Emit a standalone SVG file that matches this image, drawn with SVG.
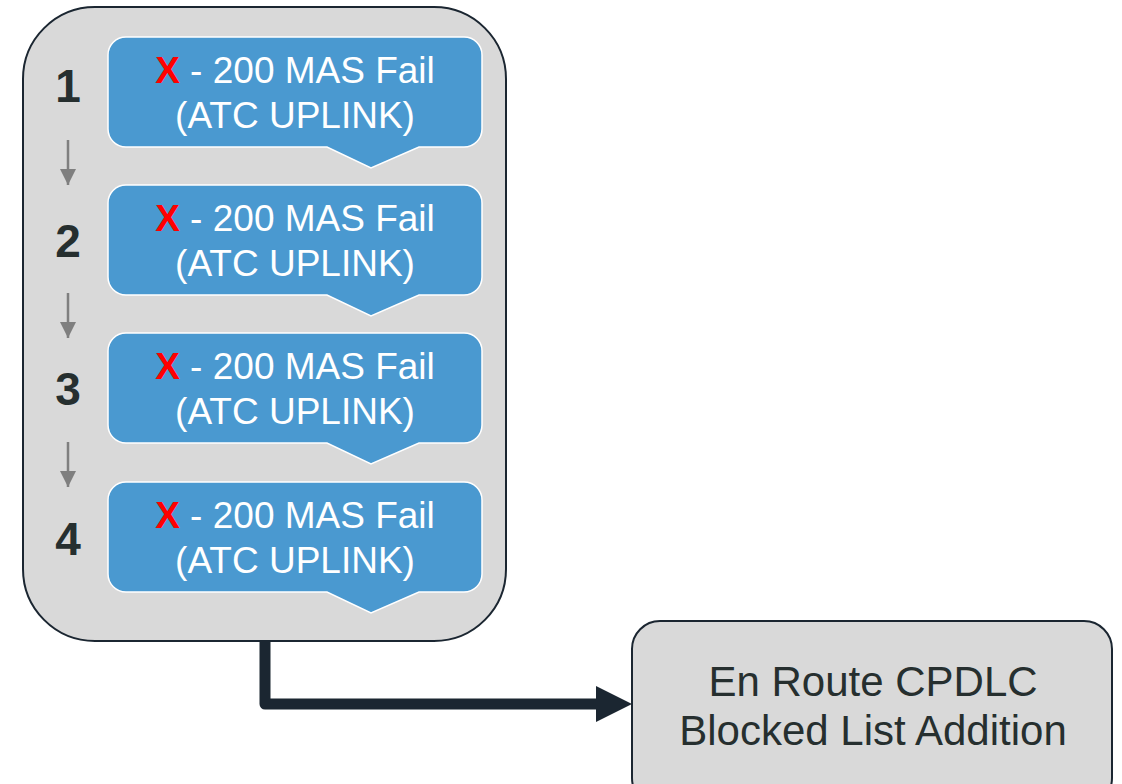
<svg xmlns="http://www.w3.org/2000/svg" width="1122" height="784" viewBox="0 0 1122 784">
<defs>
<style>
.grey{fill:#d9d9d9;stroke:#1b2631;stroke-width:2}
.blue{fill:#4a99d0;stroke:#ffffff;stroke-width:1.5}
.t{font-family:"Liberation Sans",Arial,sans-serif;font-size:37px;fill:#ffffff;text-anchor:middle}
.x{fill:#ff0000;font-weight:bold}
.num{font-family:"Liberation Sans",Arial,sans-serif;font-size:46px;font-weight:bold;fill:#262f2f;text-anchor:middle}
.step{stroke:#7f7f7f;stroke-width:2.5;fill:none}
.big{font-family:"Liberation Sans",Arial,sans-serif;font-size:42px;fill:#262f2f;text-anchor:middle}
</style>
<marker id="ga" markerUnits="userSpaceOnUse" markerWidth="16" markerHeight="16" refX="16" refY="8" orient="auto">
<path d="M0,0 L16,8 L0,16 Z" fill="#7f7f7f"/>
</marker>
<path id="callout" d="M18,0 H356 A18,18 0 0 1 374,18 V92 A18,18 0 0 1 356,110 H311 L263,131 L219,110 H18 A18,18 0 0 1 0,92 V18 A18,18 0 0 1 18,0 Z"/>
</defs>
<g id="container">
<rect class="grey" x="23" y="7" width="483" height="634" rx="72" ry="72"/>
</g>
<g id="step1">
<use href="#callout" class="blue" x="108" y="37"/>
<text class="t" x="295" y="83"><tspan class="x">X</tspan> - 200 MAS Fail</text>
<text class="t" x="295" y="128">(ATC UPLINK)</text>
<text class="num" x="68" y="102">1</text>
</g>
<g id="step2">
<use href="#callout" class="blue" x="108" y="185"/>
<text class="t" x="295" y="231"><tspan class="x">X</tspan> - 200 MAS Fail</text>
<text class="t" x="295" y="276">(ATC UPLINK)</text>
<text class="num" x="68" y="257">2</text>
</g>
<g id="step3">
<use href="#callout" class="blue" x="108" y="333"/>
<text class="t" x="295" y="379"><tspan class="x">X</tspan> - 200 MAS Fail</text>
<text class="t" x="295" y="424">(ATC UPLINK)</text>
<text class="num" x="68" y="405">3</text>
</g>
<g id="step4">
<use href="#callout" class="blue" x="108" y="482"/>
<text class="t" x="295" y="528"><tspan class="x">X</tspan> - 200 MAS Fail</text>
<text class="t" x="295" y="573">(ATC UPLINK)</text>
<text class="num" x="68" y="555">4</text>
</g>
<g id="result">
<rect class="grey" x="632" y="621" width="480" height="185" rx="28" ry="28"/>
<text class="big" x="873" y="696">En Route CPDLC</text>
<text class="big" x="873" y="745">Blocked List Addition</text>
</g>
<g id="connectors">
<line class="step" x1="68" y1="140" x2="68" y2="185" marker-end="url(#ga)"/>
<line class="step" x1="68" y1="293" x2="68" y2="338" marker-end="url(#ga)"/>
<line class="step" x1="68" y1="442" x2="68" y2="487" marker-end="url(#ga)"/>
<path d="M265,641 V704 H598" fill="none" stroke="#1b2631" stroke-width="11" stroke-linejoin="round"/>
<path d="M596,686 L632,704 L596,722 Z" fill="#1b2631"/>
</g>
</svg>
